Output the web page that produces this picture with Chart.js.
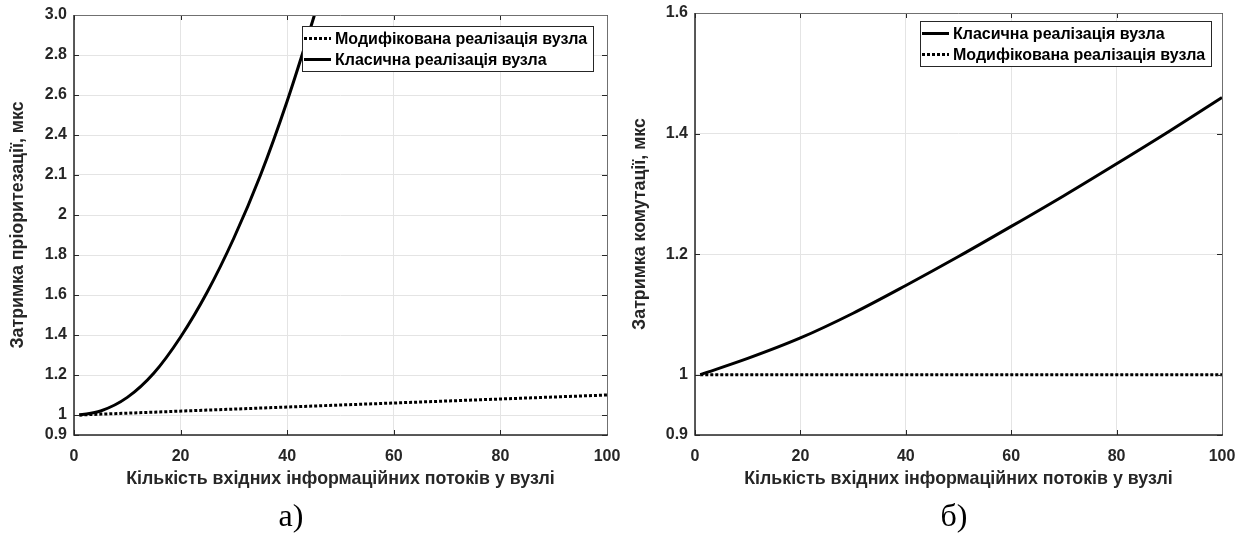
<!DOCTYPE html>
<html>
<head>
<meta charset="utf-8">
<script src="https://cdn.jsdelivr.net/npm/chart.js"></script>
<style>
  html, body { margin: 0; padding: 0; background: #fff; }
  #wrap { position: relative; width: 1244px; height: 533px; overflow: hidden; }
  .panel { position: absolute; top: 0; width: 622px; height: 533px; }
  .cap {
    position: absolute; top: 499px; font-family: "Liberation Serif", serif;
    font-size: 32px; line-height: 32px; color: #000; transform: translateX(-50%);
  }
</style>
</head>
<body>
<div id="wrap">
  <div class="panel" style="left:0"><canvas id="chartA" width="622" height="533"></canvas></div>
  <div class="panel" style="left:622px"><canvas id="chartB" width="622" height="533"></canvas></div>
  <div class="cap" style="left:291px">а)</div>
  <div class="cap" style="left:954px">б)</div>
</div>
<script>
// shared
const xTicks = [0, 20, 40, 60, 80, 100];
const xTitle = "Кількість вхідних інформаційних потоків у вузлі";
const labelClassic = "Класична реалізація вузла";
const labelMod = "Модифікована реалізація вузла";

// panel а)
const yTicksA = [0.9, 1, 1.2, 1.4, 1.6, 1.8, 2, 2.2, 2.4, 2.6, 2.8, 3.0];
const yTickLabelsA = ["0.9", "1", "1.2", "1.4", "1.6", "1.8", "2", "2.1", "2.4", "2.6", "2.8", "3.0"];
const yTitleA = "Затримка пріоритезації, мкс";
const xModA = [1, 50, 100];
const yModA = [1.0, 1.05, 1.1];
const xClassicA = [1, 5, 10, 15, 20, 25, 30, 35, 40, 45, 47];
const yClassicA = [1.0, 1.02, 1.088, 1.21, 1.39, 1.615, 1.885, 2.2, 2.57, 2.99, 3.17];

// panel б)
const yTicksB = [0.9, 1, 1.2, 1.4, 1.6];
const yTickLabelsB = ["0.9", "1", "1.2", "1.4", "1.6"];
const yTitleB = "Затримка комутації, мкс";
const xClassicB = [1, 10, 20, 30, 40, 50, 60, 70, 80, 90, 100];
const yClassicB = [1.0, 1.027, 1.061, 1.102, 1.148, 1.196, 1.246, 1.297, 1.35, 1.404, 1.46];
const xModB = [1, 100];
const yModB = [1.0, 1.0];

const textColor = "#262626";
const tickFont = { family: "Liberation Sans", weight: "bold", size: 16 };
const titleFont = { family: "Liberation Sans", weight: "bold", size: 17.8 };

function pts(xs, ys) {
  return xs.map((x, i) => ({ x: x, y: ys[i] }));
}

function classicSet(xs, ys) {
  return {
    label: labelClassic,
    data: pts(xs, ys),
    borderColor: "#000",
    borderWidth: 3,
    pointRadius: 0,
    cubicInterpolationMode: "monotone"
  };
}

function modSet(xs, ys) {
  return {
    label: labelMod,
    data: pts(xs, ys),
    borderColor: "#000",
    borderWidth: 3,
    borderDash: [3, 2],
    borderCapStyle: "butt",
    pointRadius: 0
  };
}

// matlab-like box, inward ticks and boxed legend
const frame = {
  id: "frame",
  afterDatasetsDraw(chart, args, opts) {
    const { ctx, chartArea: a, scales } = chart;
    const x = scales.x, y = scales.y;
    ctx.save();
    ctx.lineWidth = 1;
    ctx.strokeStyle = textColor;
    ctx.beginPath();
    x.ticks.forEach((t) => {
      const p = Math.round(x.getPixelForValue(t.value)) + 0.5;
      ctx.moveTo(p, a.bottom); ctx.lineTo(p, a.bottom - 5);
      ctx.moveTo(p, a.top); ctx.lineTo(p, a.top + 5);
    });
    y.ticks.forEach((t) => {
      const p = Math.round(y.getPixelForValue(t.value)) + 0.5;
      ctx.moveTo(a.left, p); ctx.lineTo(a.left + 5, p);
      ctx.moveTo(a.right, p); ctx.lineTo(a.right - 5, p);
    });
    ctx.stroke();

    // box
    ctx.strokeStyle = "#707070";
    ctx.beginPath();
    ctx.moveTo(a.left, a.top + 0.5); ctx.lineTo(a.right + 0.5, a.top + 0.5);
    ctx.lineTo(a.right + 0.5, a.bottom);
    ctx.stroke();
    ctx.strokeStyle = textColor;
    ctx.lineWidth = 1.5;
    ctx.beginPath();
    ctx.moveTo(a.left, a.top); ctx.lineTo(a.left, a.bottom);
    ctx.lineTo(a.right + 1, a.bottom);
    ctx.stroke();

    // legend
    ctx.font = "bold 16px 'Liberation Sans'";
    const sets = chart.data.datasets;
    let maxW = 0;
    sets.forEach((d) => { maxW = Math.max(maxW, ctx.measureText(d.label).width); });
    const w = Math.round(33 + maxW + 6);
    const h = 45;
    const right = Math.round(a.right - opts.insetRight);
    const left = right - w;
    const top = Math.round(a.top + opts.insetTop);
    ctx.fillStyle = "#fff";
    ctx.fillRect(left, top, w, h);
    ctx.lineWidth = 1;
    ctx.strokeStyle = textColor;
    ctx.strokeRect(left + 0.5, top + 0.5, w, h);
    sets.forEach((d, i) => {
      const cy = top + 12.5 + i * 21;
      ctx.lineWidth = 3;
      ctx.strokeStyle = "#000";
      ctx.setLineDash(d.borderDash || []);
      ctx.beginPath();
      ctx.moveTo(left + 2, cy); ctx.lineTo(left + 29, cy);
      ctx.stroke();
      ctx.setLineDash([]);
      ctx.fillStyle = "#000";
      ctx.textBaseline = "middle";
      ctx.textAlign = "left";
      ctx.fillText(d.label, left + 33, cy + 1);
    });
    ctx.restore();
  }
};

function makeChart(id, datasets, yTicks, yLabels, yTitle, pad, legendPos) {
  const ctx = document.getElementById(id).getContext("2d");
  return new Chart(ctx, {
    type: "line",
    data: { datasets: datasets },
    plugins: [frame],
    options: {
      responsive: false,
      animation: false,
      devicePixelRatio: 1,
      layout: { padding: { top: pad.top, right: pad.right, left: 0, bottom: 0 } },
      plugins: {
        legend: { display: false },
        tooltip: { enabled: false },
        frame: legendPos
      },
      scales: {
        x: {
          type: "linear",
          min: 0,
          max: 100,
          afterBuildTicks: (s) => { s.ticks = xTicks.map((v) => ({ value: v })); },
          afterFit: (s) => {
            s.height = 533 - 435;
            s.paddingLeft = 0;
            s.paddingRight = pad.right;
          },
          grid: { color: "#e4e4e4", drawTicks: false },
          border: { display: false },
          ticks: {
            padding: 12,
            maxRotation: 0,
            autoSkip: false,
            color: textColor,
            font: tickFont,
            callback: (v) => String(v)
          },
          title: {
            display: true,
            text: xTitle,
            color: textColor,
            font: titleFont,
            padding: { top: 0, bottom: 43 }
          }
        },
        y: {
          type: "linear",
          min: yTicks[0],
          max: yTicks[yTicks.length - 1],
          afterBuildTicks: (s) => { s.ticks = yTicks.map((v) => ({ value: v })); },
          afterFit: (s) => {
            s.width = pad.left;
            s.paddingTop = 0;
            s.paddingBottom = 0;
          },
          grid: { color: "#e4e4e4", drawTicks: false },
          border: { display: false },
          ticks: {
            padding: 7,
            autoSkip: false,
            color: textColor,
            font: tickFont,
            callback: (v, i) => yLabels[i]
          },
          title: {
            display: true,
            text: yTitle,
            color: textColor,
            font: titleFont,
            padding: { top: 7, bottom: 0 }
          }
        }
      }
    }
  });
}

makeChart(
  "chartA",
  [modSet(xModA, yModA), classicSet(xClassicA, yClassicA)],
  yTicksA, yTickLabelsA, yTitleA,
  { top: 15, right: 15, left: 74 },
  { insetRight: 14, insetTop: 11 }
);

makeChart(
  "chartB",
  [classicSet(xClassicB, yClassicB), modSet(xModB, yModB)],
  yTicksB, yTickLabelsB, yTitleB,
  { top: 13, right: 22, left: 73 },
  { insetRight: 11, insetTop: 8 }
);
</script>
</body>
</html>
